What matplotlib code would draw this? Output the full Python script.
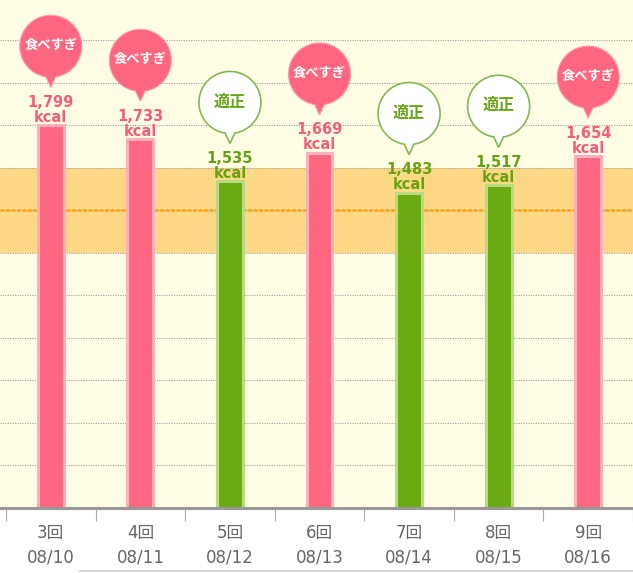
import numpy as np
import matplotlib
matplotlib.use('Agg')
import matplotlib.pyplot as plt
from matplotlib.patches import Polygon
from matplotlib.lines import Line2D
from matplotlib.transforms import ScaledTranslation

plt.rcParams['font.family'] = ['DejaVu Sans', 'Noto Sans CJK JP']

# data
sessions = ['3回', '4回', '5回', '6回', '7回', '8回', '9回']
dates = ['08/10', '08/11', '08/12', '08/13', '08/14', '08/15', '08/16']
kcal = [1799, 1733, 1535, 1669, 1483, 1517, 1654]
status = ['食べすぎ', '食べすぎ', '適正', '食べすぎ', '適正', '適正', '食べすぎ']
target_low, target_high, target_mid = 1200, 1600, 1400
grid_ticks = list(range(200, 2400, 200))

PINK, PINK_EDGE, PINK_TEXT = '#ff6680', '#ffb0bc', '#f0607a'
GREEN, GREEN_EDGE, GREEN_TEXT = '#6aaa12', '#b8dc80', '#66a314'

DPI = 100
fig = plt.figure(figsize=(6.33, 5.73), dpi=DPI, facecolor='white')
ax = fig.add_axes([0, 65/573, 1, 508/573])
ax.set_facecolor('#fffde3')
ax.set_xlim(-0.567, 6.48)
ax.set_ylim(0, 2388)

# target band + mid line
ax.axhspan(target_low, target_high, color='#ffd885', zorder=0.5, lw=0)
for yv in grid_ticks:
    ax.axhline(yv, color='#a0a0a0', lw=0.8, ls=(0, (1, 1.2)), zorder=1)
ax.axhline(target_mid, color='#f5a418', lw=1.8, ls=(0, (1.6, 0.6)), zorder=1.5)

x = np.arange(len(kcal))
over = [s == '食べすぎ' for s in status]
fills = [PINK if o else GREEN for o in over]
edges = [PINK_EDGE if o else GREEN_EDGE for o in over]
ax.bar(x, kcal, width=0.29, color=fills, edgecolor=edges, linewidth=2.2, zorder=2)

def px(v):
    return v * 0.72  # pixels -> points at 100 dpi

R = 31      # bubble radius, px
CY = 79     # bubble centre above bar top, px
TAIL = 10   # tail length below circle, px
ang = np.radians(np.linspace(-81, 261, 120))
bubble_xy = np.column_stack([R*np.cos(ang), CY + R*np.sin(ang)])
bubble_xy = np.vstack([bubble_xy, [0, CY - R - TAIL]]) / DPI

for xi, v, s, o in zip(x, kcal, status, over):
    tcol = PINK_TEXT if o else GREEN_TEXT
    ax.annotate(f'{v:,}', (xi, v), xytext=(0, px(23)), textcoords='offset points',
                ha='center', va='center', fontsize=10.5, fontweight='bold',
                color=tcol, zorder=3)
    ax.annotate('kcal', (xi, v), xytext=(0, px(8)), textcoords='offset points',
                ha='center', va='center', fontsize=10.5, fontweight='bold',
                color=tcol, zorder=3)

    trans = fig.dpi_scale_trans + ScaledTranslation(xi, v, ax.transData)
    if o:
        poly = Polygon(bubble_xy, closed=True, transform=trans, facecolor=PINK,
                       edgecolor='#ff9aaa', lw=0.8, zorder=4, clip_on=False)
        ax.add_patch(poly)
        ax.annotate(s, (xi, v), xytext=(0, px(CY + 1)), textcoords='offset points',
                    ha='center', va='center', fontsize=9.5, fontweight='bold',
                    color='white', family='Noto Sans CJK JP', zorder=5)
    else:
        poly = Polygon(bubble_xy, closed=True, transform=trans, facecolor='white',
                       edgecolor='#84b850', lw=1.2, zorder=4, clip_on=False)
        ax.add_patch(poly)
        ax.annotate(s, (xi, v), xytext=(0, px(CY + 1)), textcoords='offset points',
                    ha='center', va='center', fontsize=11.5, fontweight='bold',
                    color=GREEN_TEXT, family='Noto Sans CJK JP', zorder=5)

# axes styling
for side in ['top', 'left', 'right']:
    ax.spines[side].set_visible(False)
ax.spines['bottom'].set_color('#999999')
ax.spines['bottom'].set_linewidth(2.2)
ax.spines['bottom'].set_zorder(6)
ax.set_yticks([])
ax.set_xticks(x)
ax.set_xticklabels([])
ax.tick_params(axis='x', which='major', length=0)
ax.set_xticks(np.arange(-0.5, 6.6, 1), minor=True)
ax.tick_params(axis='x', which='minor', length=px(13), width=0.8, color='#aaaaaa',
               direction='out')

for xi, s, d in zip(x, sessions, dates):
    ax.annotate(s, (xi, 0), xycoords=('data', 'axes fraction'), xytext=(0, -px(25)),
                textcoords='offset points', ha='center', va='center',
                fontsize=12, color='#666666', annotation_clip=False)
    ax.annotate(d, (xi, 0), xycoords=('data', 'axes fraction'), xytext=(0, -px(50)),
                textcoords='offset points', ha='center', va='center',
                fontsize=12, color='#666666', annotation_clip=False)

fig.add_artist(Line2D([80/633, 1], [2/573, 2/573], transform=fig.transFigure,
                      color='#cccccc', lw=1.2))

fig.savefig('out.png', dpi=DPI, facecolor='white')
